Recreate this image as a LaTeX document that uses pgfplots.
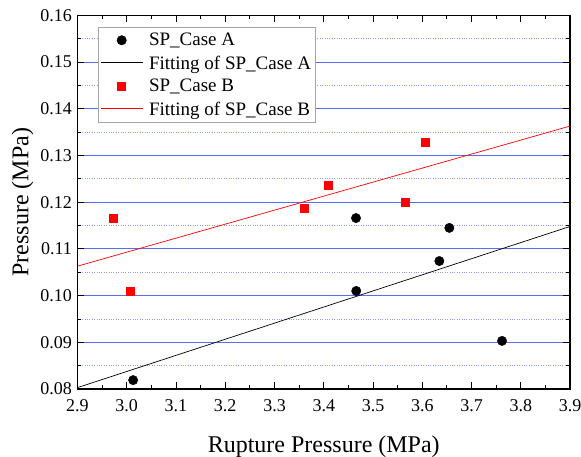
\documentclass[border=0pt]{standalone}
\usepackage{fontspec}
\setmainfont{Liberation Serif}
\usepackage{pgfplots}
\pgfplotsset{compat=1.18}
\definecolor{gridblue}{RGB}{85,110,245}
\definecolor{minorblue}{RGB}{140,155,245}
\definecolor{fitred}{RGB}{255,0,0}
\pgfplotsset{
  markleg/.style={legend image code/.code={\draw[##1] plot coordinates {(21pt,0pt)}; \path (0pt,0pt) (46pt,0pt);}},
  lineleg/.style={legend image code/.code={\draw[##1, line width=0.9pt] (0pt,0.6pt) -- (42pt,0.6pt); \path (46pt,0pt);}},
}
\begin{document}
\begin{tikzpicture}
\path[use as bounding box] (-77.5pt,-68pt) rectangle (503.5pt,389pt);
\begin{axis}[
  scale only axis, width=492.5pt, height=373.6pt,
  xmin=2.9, xmax=3.9, ymin=0.08, ymax=0.16,
  xtick={2.9,3.0,3.1,3.2,3.3,3.4,3.5,3.6,3.7,3.8,3.9},
  ytick={0.08,0.09,0.10,0.11,0.12,0.13,0.14,0.15,0.16},
  minor x tick num=1, minor y tick num=1,
  tick align=inside,
  major tick length=7pt, minor tick length=4pt,
  every tick/.style={black, line width=0.8pt},
  axis line style={line width=1.2pt},
  ymajorgrids=true, yminorgrids=true,
  major grid style={gridblue, line width=1pt},
  minor grid style={minorblue, dotted, line width=0.8pt},
  /pgf/number format/assume math mode=true,
  xticklabel style={/pgf/number format/.cd, fixed, fixed zerofill, precision=1, /tikz/.cd, yshift=-7pt},
  yticklabel style={/pgf/number format/.cd, fixed, fixed zerofill, precision=2, /tikz/.cd, xshift=-2pt},
  tick label style={font=\fontsize{18}{20}\selectfont},
  label style={font=\fontsize{24}{26}\selectfont},
  xlabel={Rupture Pressure (MPa)},
  xlabel style={yshift=-17pt},
  ylabel={Pressure (MPa)},
  legend style={draw=gray!70, fill=white, line width=0.5pt, font=\fontsize{19}{21}\selectfont,
    at={(0.0416,0.969)}, anchor=north west, inner xsep=2pt, inner ysep=4pt, row sep=4.5pt,
    cells={anchor=west}},
]
\addplot[only marks, mark=*, mark size=4.7pt, black, markleg] coordinates {
  (3.013,0.0819) (3.4655,0.1166) (3.466,0.1010) (3.6347,0.1074) (3.655,0.1145) (3.762,0.0903)
};
\addlegendentry{SP\_Case A}
\addplot[draw=black, line width=0.7pt, lineleg] coordinates {(2.9,0.0803) (3.9,0.1148)};
\addlegendentry{Fitting of SP\_Case A}
\addplot[only marks, mark=square*, mark size=4pt, red, mark options={draw=red, fill=red}, markleg] coordinates {
  (2.9735,0.1166) (3.007,0.1010) (3.36,0.1188) (3.4086,0.1237) (3.5644,0.1201) (3.6056,0.1329)
};
\addlegendentry{SP\_Case B}
\addplot[draw=fitred, line width=0.7pt, lineleg] coordinates {(2.9,0.1063) (3.9,0.1363)};
\addlegendentry{Fitting of SP\_Case B}
\end{axis}
\end{tikzpicture}
\end{document}
